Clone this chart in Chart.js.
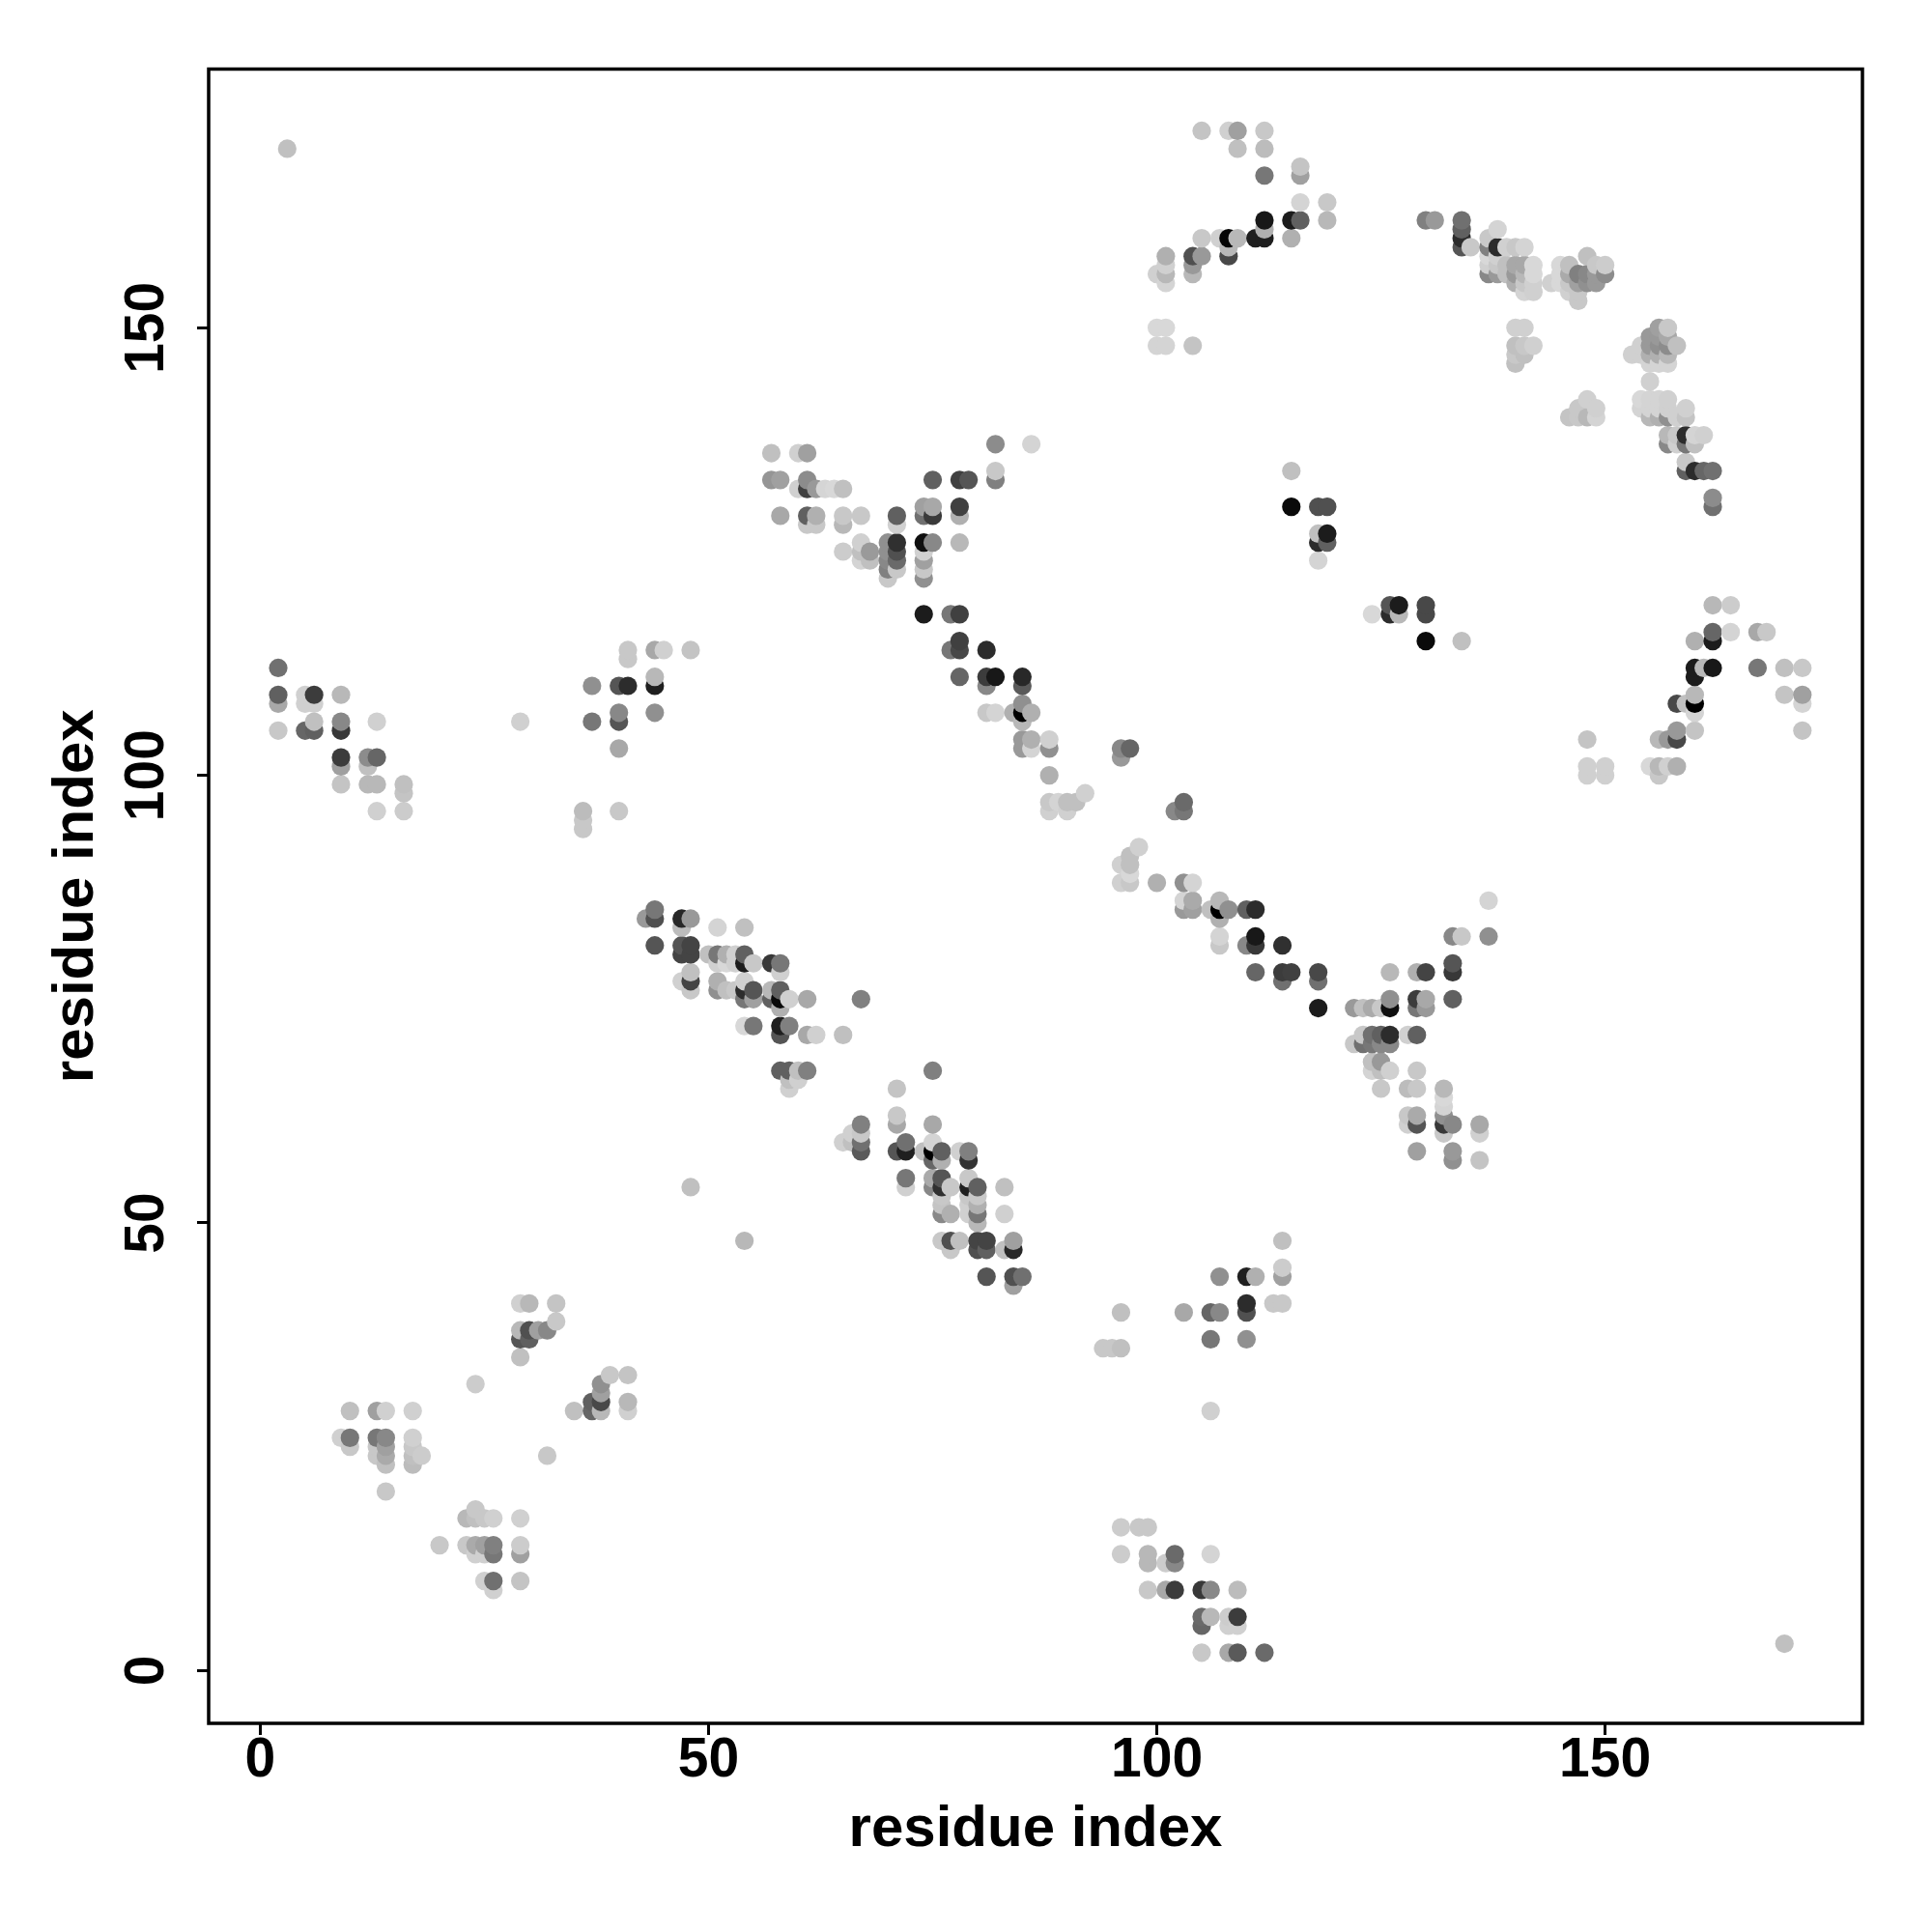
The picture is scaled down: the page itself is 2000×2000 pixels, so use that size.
<!DOCTYPE html>
<html lang="en">
<head>
    <meta charset="UTF-8">
    <title>residue contacts</title>
    <script src="https://cdn.jsdelivr.net/npm/chart.js"></script>
    <style>
        body { margin: 0; background: #fff; }
        canvas { display: block; }
    </style>
</head>
<body>
    <canvas id="contact-chart" width="2000" height="2000"></canvas>
    <script>
        const axisTitle = "residue index";
        const xTicks = [0, 50, 100, 150];
        const yTicks = [0, 50, 100, 150];

        // one entry per row of contacts, same index in all three lists
        const rowY = [
            170, 172, 170, 168, 167, 164, 162, 161, 160, 159, 158, 157, 156, 155, 150, 148,
            162, 161, 160, 159, 158, 157, 156, 155, 154, 153, 150, 149, 148, 147, 146, 144, 142, 141, 140, 138, 137, 135, 134, 131, 130,
            134, 130, 127, 126, 124, 119, 118, 116, 115, 112, 111, 109, 108, 107, 105, 104, 101, 100,
            137, 136, 134, 133, 132, 130, 129, 128, 126, 125, 124, 123, 122, 118, 115, 114, 111, 110, 108, 107, 106, 104, 103, 102, 100, 98, 97, 96,
            96, 97, 92, 91, 90, 89, 88,
            86, 85, 84, 82, 81, 79, 78, 77, 75, 74, 71, 70, 68, 67, 65, 64, 63, 62, 61, 60, 58, 57,
            85, 84, 83, 81, 80, 79, 78, 77, 76, 75, 74, 72, 71, 67, 66, 65,
            67, 65, 62, 61, 60, 59, 58, 57, 55, 54, 53, 52, 51, 50, 48, 47, 44, 43,
            54, 48, 3,
            41, 39, 38, 37, 35, 33, 32, 31, 30, 29, 26, 25, 24, 23, 20, 18, 17, 14, 13, 10, 9,
            48, 45, 44, 41, 40, 37, 36, 29, 16, 13, 12, 9, 6, 5, 2,
            114, 113, 112, 111, 110, 109, 108, 107, 106, 105, 103, 102, 101, 99, 98, 96, 95, 94
        ];
        const rowX = [
            [3], [105,108,109,112], [109,112], [116], [112,116], [116,119], [112,115,116,119], [112], [105,107,108,109,111,112,115], [108], [101,104,105,108], [101,104], [100,101,104], [101], [100,101], [100,101,104],
            [130,131,134], [134,138], [134,137], [134,135,137,138,139,140,141], [137,138,148], [137,138,139,140,141,142,145,146,149,150], [137,138,139,140,141,142,145,146,147,148,149,150], [140,141,142,144,145,146,147,148,149], [141,142,146,147], [147], [140,141,156,157], [155,156,157], [140,141,142,154,155,156,157,158], [140,141,153,154,155,156,157], [140,155,156,157], [155], [148,154,155,156,157], [147,149,154,155,156,157,159], [146,147,148,149,155,156,157,158,159], [157,158,159,160,161], [157,158,159,160], [159], [159,160,161,162], [162], [162],
            [115], [115,118,119], [118,119], [118,119], [118], [126,127,130,162,164], [124,126,127,130], [162,164,167,168], [130,134,160,162], [160,161,162,167,170,172], [160], [160,170,172], [158,159,160,172], [160], [158,160,172], [148,156,157,158], [148,150,155,156,157,158], [148,150,156],
            [82,86], [57,60,61], [82], [57,58,61,75,78,79,82], [60,61,62,63,64,65], [74,75,78], [58,61,62,65,67,71,74,75,78], [61,62,65,71], [67,70,71,74,75,78], [65,67,68,70,71,74], [67,68,70,71,74], [70,71,74], [70,74], [74,77,78], [78], [77,78,81], [78,81,82,85], [81,85], [85], [81,82,84,85,86], [85], [85,86,88], [85,86,88,96,97], [96], [88], [92], [88,89,90,91], [88,90],
            [102,103], [103], [98], [97], [96,97], [97], [96,97,100,103,104],
            [103,104,107,137], [103,104,106,107,108,110,111], [107], [107,111,133,134,137], [107,110,111,114], [133], [111,114,115,118,126,129,130,133], [114,118], [126,129,130,133], [118,122,123,124,125,126,129,130], [123,124,125,126,128,129], [122,123,124,125,126], [124,125], [124,125,126,129], [125,128,129,132], [132], [132], [128,129,132], [128,129,132,133,136], [132,136], [129,133], [133,136],
            [44], [43,44,47,48], [47,51,54], [44,47,48], [47,48,50,51,52,53,54], [51,52,53,54,55,57,58], [48,58], [47,48,51,54], [48,51,52,53,54,55,57,58], [54,55,57,58,59,61,67], [58], [54,55,58,59], [58,61,62,65], [58,59,60,61], [59,60], [59],
            [75], [71], [71], [67,71,75], [66,67], [65,66,67,72,75], [67,71,72,74,75,76,78,79], [75,76,79], [72,75,76,79], [72,75,76,77,79,80,83], [76,79,80], [76,79,80], [76,77,79,80,83], [80], [76,77,78,80,81,84], [77,80,81,83,84], [81,84,85], [84],
            [48], [54], [170],
            [29,30,33], [33], [29,30,31,32], [29,30], [29], [39,41], [24,38], [38], [37,38,41], [10,13,14,17,35,37,38,41], [9,10,13,14,17], [10,13,14,17], [13,14,17,18,32], [14,17], [14], [24], [23,24,25,26,29], [20,23,24,25,26,29], [24,25,26,29], [25,26,29], [26],
            [114], [114], [107,110,111,114], [110,113,114], [96,103,106,107,110], [106,110], [94,95,96], [106], [96,98,99], [96,99,102,106], [99,101,102], [99,101,102,105,106,109], [105,106,108,109], [105,108,109], [105,108,109,112],
            [41,44,45,48], [41], [2], [44], [37,40,41,44], [2,5,6,9], [2,5,6], [40,44], [6,9,13,29,37,40], [2,5,6,9], [40], [9,12,13], [9,12], [9,12,13,16], [16], [13,16,36,40], [36], [36]
        ];
        const rowGrey = [
            [0xc0], [0xc4,0xd0,0xa0,0xc8], [0xc0,0xbc], [0xc4], [0x77,0xa0], [0xd4,0xc8], [0x18,0x1c,0x60,0xb8], [0xb0], [0xc8,0xd0,0x05,0xb8,0x1f,0x1f,0xb0], [0xb8], [0xb0,0x50,0x99,0x48], [0xd0,0x99], [0xd0,0xb8,0xb8], [0xd4], [0xd8,0xd8], [0xd4,0xd4,0xc4],
            [0x80,0x99,0x70], [0x60,0xd4], [0x2c,0xc8], [0x55,0xc8,0x80,0x2c,0xd0,0xc8,0xd4], [0xd8,0xd0,0xc0], [0xd0,0xc8,0xc0,0xa8,0xa8,0xd8,0xd8,0xc0,0xc8,0xcc], [0x88,0x99,0xc0,0x99,0xb8,0xd8,0xd8,0xaa,0x80,0x88,0x99,0x8c], [0xb0,0xc8,0xd0,0xd0,0xd8,0xc8,0xa0,0x90,0x99], [0xd4,0xd0,0xd0,0xc8], [0xc8], [0xd0,0xd0,0xa0,0xc8], [0x99,0x99,0xa8], [0xc0,0xc8,0xd0,0xd0,0x99,0x90,0x8c,0xc0], [0xc8,0xc0,0xd0,0xd0,0xb0,0xb0,0xb8], [0xc0,0xd4,0xd4,0xd4], [0xd0], [0xd0,0xd8,0xd4,0xd4,0xd0], [0xc8,0xd0,0xd4,0xd4,0xd4,0xd0,0xd0], [0xc4,0xc8,0xb8,0xd4,0xb8,0xb0,0x90,0xd0,0xc4], [0xb8,0xc8,0x2c,0xd4,0xd0], [0x88,0xd0,0x77,0xc0], [0xc8], [0x60,0x2c,0x66,0x70], [0x8c], [0x70],
            [0xc0], [0x0a,0x50,0x50], [0xc0,0x1c], [0x2c,0x60], [0xd4], [0x55,0x1c,0x48,0xb8,0xcc], [0xd8,0x2c,0xb8,0x48], [0x66,0xd4,0xa8,0xc8], [0x0a,0xc0,0xb0,0x1c], [0x1c,0xb8,0x18,0x77,0xc0,0xc8], [0x1c], [0xb8,0xc4,0xa0], [0x48,0xc0,0x00,0xd4], [0xd4], [0x99,0xc4,0xc4], [0xc4,0xb8,0x99,0x48], [0xd0,0xd0,0xd8,0xb8,0xd0,0xb0], [0xd0,0xd0,0xc8],
            [0x8c,0xd4], [0xc0,0xd0,0xa0], [0xc8], [0x95,0xa0,0x8c,0x60,0x40,0x55,0x80], [0xd0,0x40,0x99,0xd5,0xd8,0xc0], [0xa0,0xa8,0x40], [0xa8,0x60,0xb0,0xc8,0xc8,0x60,0x70,0x3a,0xb0], [0xc8,0xc8,0xb8,0xd0], [0xd0,0x90,0x30,0x0f,0x88,0xb8], [0xcc,0xc0,0x9a,0x90,0x50,0xd0], [0xd4,0xc0,0x88,0x6a,0xa0], [0x80,0xc8,0xc8], [0xc8,0x90], [0x1c,0x77,0x40], [0x40], [0x77,0x48,0x2c], [0x66,0x3c,0x18,0x28], [0x88,0x5a], [0x90], [0xc8,0xd4,0xb0,0x00,0xb0], [0xb8], [0x99,0xb0,0xd0], [0x99,0xd4,0x90,0x88,0x66], [0x99], [0xb0], [0xd0], [0xc8,0xd4,0xc0,0xc0], [0xd0,0xd0],
            [0x88,0x77], [0x6a], [0xd0], [0xc0], [0xd0,0xc0], [0xd8], [0xd0,0xc8,0xb0,0x90,0xd4],
            [0xd4,0xaa,0xb8,0xd4], [0x99,0xa0,0xc0,0x00,0x90,0x60,0x2c], [0xb0], [0xd4,0x18,0x88,0xc8,0x90], [0xc8,0x88,0x38,0x30], [0x55], [0x66,0x3c,0x40,0x48,0xb8,0xb0,0x44,0x38], [0x70,0x70], [0x90,0x3c,0xa8,0x60], [0x1c,0x99,0xc0,0xaa,0xc8,0x0f,0x77,0x99], [0xc8,0x70,0x60,0x2c,0xd0,0x60], [0xc8,0x70,0x77,0x88,0x88], [0xc0,0x99], [0xd4,0xc0,0xd0,0xc8], [0xc8,0xbc,0xc8,0xb8], [0xd8], [0xd4], [0xc8,0xaa,0x90], [0xd0,0x55,0x38,0x88,0xa8], [0xc8,0xd0], [0xa0,0x99], [0x90,0xc4],
            [0x77], [0x99,0x50,0x28,0x99], [0xbc,0xd4,0xc0], [0x55,0x55,0x44], [0x44,0x44,0xc0,0x77,0xb0,0xd0,0x60], [0xd0,0xd8,0xd0,0x1c,0xc8,0x38,0x77], [0xc0,0xd0], [0xd0,0x44,0xb0,0xd0], [0xc8,0x90,0xc0,0xc8,0x2c,0x55,0xb8,0x60], [0x77,0xa0,0x60,0x0a,0xd0,0xa8,0x80], [0xb0], [0xd8,0x77,0x1f,0x80], [0x55,0xa8,0xd0,0xc0], [0x60,0x60,0xc0,0x80], [0xc0,0xd0], [0xd0],
            [0x80], [0xc4], [0xc8], [0x80,0xa8,0xa8], [0xd0,0xc8], [0xd0,0xc0,0x70,0x70,0xd4], [0x5a,0x55,0x1f,0xc0,0x00,0x60,0xd0,0x80], [0x66,0xb0,0x33], [0x77,0xaa,0x55,0xc8], [0xd0,0x88,0x30,0xc8,0x20,0x60,0xc0], [0xc8,0xc8,0xc8], [0xc4,0xd0,0xb0], [0x88,0xb0,0xd0,0x77,0xd0], [0xb8], [0xc8,0x50,0xc0,0x44,0x44,0xa0], [0xc8,0x50,0x60,0xc0,0x28], [0x55,0x50,0x70], [0xa0],
            [0xc0], [0xb8], [0xc0],
            [0xd0,0xb8,0xc4], [0xc8], [0xb8,0x50,0xa0,0x88], [0x55,0x60], [0xc0], [0xc8,0xc4], [0xcc,0x90], [0xa0], [0x60,0x48,0xb8], [0xc0,0xa0,0xd0,0xd0,0xc0,0x66,0xb8,0xd0], [0xd0,0x77,0x77,0x88,0xd0], [0xc8,0xc8,0xa0,0xc8], [0xc8,0xaa,0xc0,0xcc,0xc8], [0xc0,0xbc], [0xc8], [0xc8], [0xb8,0xc0,0xc8,0xd0,0xd0], [0xc8,0xc8,0xaa,0xa0,0x80,0xcc], [0xd0,0xd0,0x77,0xa0], [0xd0,0x70,0xc4], [0xd0],
            [0xc0], [0xcc], [0x90,0x20,0xb0,0xa0], [0x2c,0xc8,0xc8], [0xc0,0xa8,0x66,0x88,0x50], [0x77,0x90], [0xc8,0xc8,0xc0], [0xd0], [0xcc,0xc8,0xc8], [0xcc,0xb8,0x6a,0xd4], [0xb8,0xcc,0x88], [0xc8,0xa8,0x3c,0x38,0x88,0xbc], [0x6a,0xb8,0xcc,0x3c], [0x66,0xd0,0xd0], [0xc8,0xa8,0x5a,0x6a],
            [0xc8,0xa8,0xd0,0xc4], [0xc8], [0x70], [0xb8], [0x90,0x55,0x2c,0x1f], [0x60,0xd0,0x3c,0xb8], [0xa8,0xd0,0xd0], [0x88,0x90], [0xc0,0x88,0xd0,0xd0,0x77,0x55], [0xc8,0x66,0x60,0x38], [0xa8], [0x3c,0x8c,0x66], [0xa0,0xc0], [0xc4,0xb8,0xb8,0xc0], [0xc4], [0xd0,0xcc,0xbc,0xc8], [0xc8], [0xc8]
        ];

        const contacts = [];
        rowY.forEach((y, i) => {
            rowX[i].forEach((x, j) => contacts.push({ x: x, y: y, grey: rowGrey[i][j] }));
        });
        // later residues sit on top of earlier ones in the picture
        contacts.sort((a, b) => a.x - b.x || a.y - b.y);

        const boxPlugin = {
            id: "box",
            afterDraw(chart) {
                const a = chart.chartArea;
                const ctx = chart.ctx;
                ctx.save();
                ctx.strokeStyle = "#000";
                ctx.lineWidth = 3.5;
                ctx.strokeRect(a.left, a.top, a.right - a.left, a.bottom - a.top);
                ctx.restore();
            }
        };

        const tickFont = { family: "'Liberation Sans'", size: 57, weight: "bold" };
        const titleFont = { family: "'Liberation Sans'", size: 60, weight: "bold" };

        new Chart(document.getElementById("contact-chart"), {
            type: "scatter",
            data: {
                datasets: [{
                    data: contacts,
                    pointRadius: 9.6,
                    pointBorderWidth: 0,
                    pointBackgroundColor: contacts.map(c => `rgb(${c.grey},${c.grey},${c.grey})`)
                }]
            },
            options: {
                responsive: false,
                devicePixelRatio: 1,
                animation: false,
                layout: { padding: { top: 71.5, right: 72, left: 0, bottom: 0 } },
                plugins: { legend: { display: false }, tooltip: { enabled: false } },
                scales: {
                    x: {
                        min: -5.76,
                        max: 178.7,
                        afterFit: s => { s.height = 216; },
                        afterBuildTicks: s => { s.ticks = xTicks.map(v => ({ value: v })); },
                        grid: { drawOnChartArea: false, tickLength: 12, tickColor: "#000", tickWidth: 3 },
                        border: { display: false },
                        ticks: { color: "#000", font: tickFont, padding: -7, maxRotation: 0, autoSkip: false },
                        title: { display: true, text: axisTitle, color: "#000", font: titleFont, padding: { top: 0, bottom: 70 } }
                    },
                    y: {
                        min: -5.9,
                        max: 178.9,
                        afterFit: s => { s.width = 216; },
                        afterBuildTicks: s => { s.ticks = yTicks.map(v => ({ value: v })); },
                        grid: { drawOnChartArea: false, tickLength: 12, tickColor: "#000", tickWidth: 3 },
                        border: { display: false },
                        ticks: { color: "#000", font: tickFont, padding: 3, minRotation: 90, maxRotation: 90, crossAlign: "center", autoSkip: false },
                        title: { display: true, text: axisTitle, color: "#000", font: titleFont, padding: { top: 43, bottom: 0 } }
                    }
                }
            },
            plugins: [boxPlugin]
        });
    </script>
</body>
</html>
